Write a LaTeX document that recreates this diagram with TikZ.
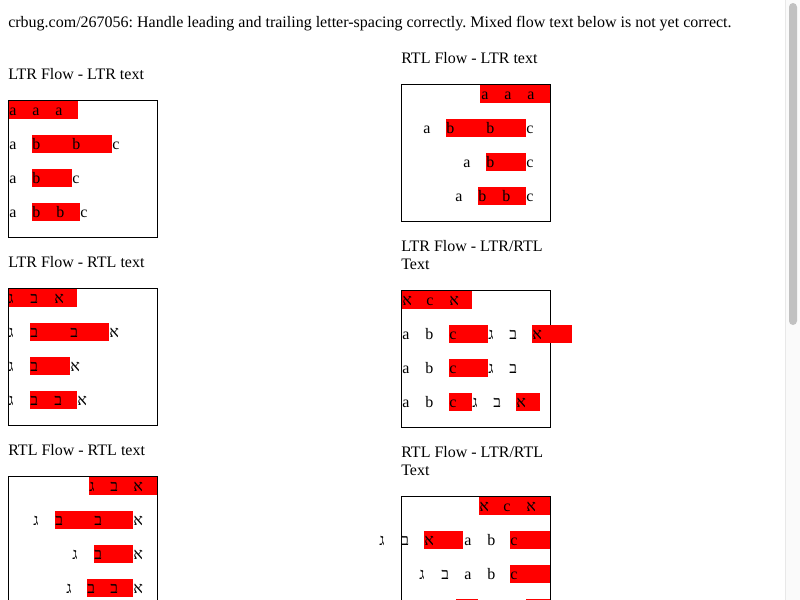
\documentclass[tikz,border=0pt]{standalone}
\usepackage{fontspec}
\setmainfont{Liberation Serif}
\usetikzlibrary{positioning}
\definecolor{thumbgray}{RGB}{193,193,193}
\definecolor{trackgray}{RGB}{250,250,250}
\definecolor{trackline}{RGB}{232,232,232}
\tikzstyle{caption} = [anchor=base west, inner sep=0pt, font=\fontsize{12}{13.5}\selectfont\frenchspacing]
\tikzstyle{glyph} = [caption]
\tikzstyle{frame} = [draw, line width=0.75pt]
\tikzstyle{spacing} = [fill=red]

\begin{document}
\begin{tikzpicture}[x=0.75pt, y=-0.75pt]
    \useasboundingbox (0,0) rectangle (800,600);
    \clip (0,0) rectangle (800,600);
    \fill [white] (0,0) rectangle (800,600);

    % Heading.
    \node (bug) [caption] at (8,27) {crbug.com/267056: Handle leading and trailing letter-spacing correctly. Mixed flow text below is not yet correct.};

    % Titles.
    \node (title1) [caption] at (8,79) {LTR Flow - LTR text};
    \node (title2) [caption] at (401,63) {RTL Flow - LTR text};
    \node (title3) [caption] at (8,267) {LTR Flow - RTL text};
    \node (title4) [caption] at (401,251) {LTR Flow - LTR/RTL};
    \node (title4b) [caption] at (401,269) {Text};
    \node (title5) [caption] at (8,455) {RTL Flow - RTL text};
    \node (title6) [caption] at (401,457) {RTL Flow - LTR/RTL};
    \node (title6b) [caption] at (401,475) {Text};

    % Boxes.
    \foreach \x/\y in {8/100, 401/84, 8/288, 401/290, 8/476, 401/496} {
        \draw [frame] (\x+0.5,\y+0.5) rectangle (\x+149.5,\y+137.5);
    }

    % Letter-spacing runs.
    \foreach \a/\b/\t in {9/78/101, 32/112/135, 32/72/169, 32/80/203,
        480/550/85, 446/526/119, 486/526/153, 478/526/187,
        9/77/289, 30/109/323, 30/70/357, 30/77/391,
        402/472/291, 449/488/325, 532/572/325, 449/488/359, 449/472/393, 516/540/393,
        89/157/477, 55/133/511, 94/133/545, 87/133/579,
        479/550/497, 424/463/531, 510/550/531, 510/550/565, 456/478/599, 526/550/599} {
        \fill [spacing] (\a,\t) rectangle (\b,\t+18);
    }

    % LTR flow, LTR text.
    \foreach \x/\t/\c [count=\i] in {9/101/a, 32/101/a, 55/101/a,
        9/135/a, 32/135/b, 72/135/b, 112/135/c,
        9/169/a, 32/169/b, 72/169/c,
        9/203/a, 32/203/b, 56/203/b, 80/203/c} {
        \node (ltrltr\i) [glyph] at (\x,\t+14) {\c};
    }

    % RTL flow, LTR text.
    \foreach \x/\t/\c [count=\i] in {481/85/a, 504/85/a, 527/85/a,
        423/119/a, 446/119/b, 486/119/b, 526/119/c,
        463/153/a, 486/153/b, 526/153/c,
        455/187/a, 478/187/b, 502/187/b, 526/187/c} {
        \node (rtlltr\i) [glyph] at (\x,\t+14) {\c};
    }

    % LTR flow, RTL text.
    \foreach \x/\t/\c [count=\i] in {8/289/ג, 30/289/ב, 54/289/א,
        8/323/ג, 30/323/ב, 70/323/ב, 109/323/א,
        8/357/ג, 30/357/ב, 70/357/א,
        8/391/ג, 30/391/ב, 54/391/ב, 77/391/א} {
        \node (ltrrtl\i) [glyph] at (\x,\t+14) {\c};
    }

    % LTR flow, mixed text.
    \foreach \x/\t/\c [count=\i] in {402/291/א, 426/291/c, 449/291/א,
        402/325/a, 425/325/b, 449/325/c, 488/325/ג, 509/325/ב, 532/325/א,
        402/359/a, 425/359/b, 449/359/c, 488/359/ג, 509/359/ב,
        402/393/a, 425/393/b, 449/393/c, 472/393/ג, 493/393/ב, 516/393/א} {
        \node (ltrmix\i) [glyph] at (\x,\t+14) {\c};
    }

    % RTL flow, RTL text.
    \foreach \x/\t/\c [count=\i] in {89/477/ג, 110/477/ב, 133/477/א,
        33/511/ג, 55/511/ב, 94/511/ב, 133/511/א,
        72/545/ג, 94/545/ב, 133/545/א,
        66/579/ג, 87/579/ב, 110/579/ב, 133/579/א} {
        \node (rtlrtl\i) [glyph] at (\x,\t+14) {\c};
    }

    % RTL flow, mixed text.
    \foreach \x/\t/\c [count=\i] in {479/497/א, 503/497/c, 526/497/א,
        379/531/ג, 401/531/ב, 424/531/א, 464/531/a, 487/531/b, 510/531/c,
        419/565/ג, 441/565/ב, 464/565/a, 487/565/b, 510/565/c} {
        \node (rtlmix\i) [glyph] at (\x,\t+14) {\c};
    }

    % Scrollbar.
    \fill [trackgray] (785,0) rectangle (800,600);
    \draw [trackline, line width=0.75pt] (785.5,0) -- (785.5,600);
    \fill [thumbgray, rounded corners=3pt] (789,3) rectangle (797,325);
\end{tikzpicture}
\end{document}
